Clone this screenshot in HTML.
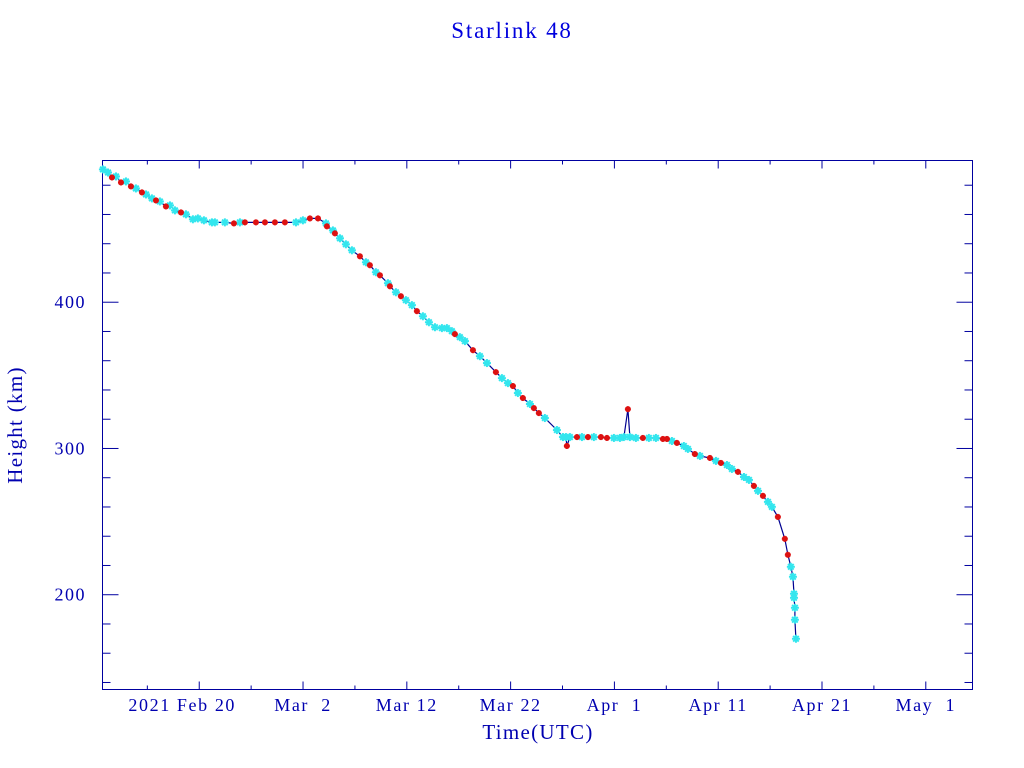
<!DOCTYPE html>
<html><head><meta charset="utf-8"><style>
html,body{margin:0;padding:0;background:#fff;}
svg{display:block;}
text{font-family:"Liberation Serif",serif;fill:#0000b0;}
</style></head><body>
<svg id="chart" width="1024" height="768" viewBox="0 0 1024 768" xmlns="http://www.w3.org/2000/svg">
<text x="512" y="38" text-anchor="middle" font-size="23" letter-spacing="1.8" style="fill:#0000dd">Starlink 48</text>
<rect x="102.5" y="160.5" width="870" height="529" fill="none" stroke="#0000a0" stroke-width="1"/>
<g id="axes"></g>
<g id="series"></g>
<text x="538" y="739" text-anchor="middle" font-size="21" letter-spacing="1.3">Time(UTC)</text>
<text transform="translate(22,425) rotate(-90)" text-anchor="middle" font-size="21" letter-spacing="1.3">Height (km)</text>
</svg>
<script>
// days relative to 2021 Feb 20
const days = [-9.28,-8.79,-8.41,-8.02,-7.54,-7.06,-6.58,-6.10,-5.52,-5.13,-4.56,-4.17,-3.79,-3.21,-2.82,-2.34,-1.76,-1.28,-0.61,-0.13,0.45,1.22,1.51,2.47,3.34,3.92,4.40,5.46,6.33,7.29,8.25,9.32,9.99,10.66,11.44,12.21,12.30,12.88,13.07,13.56,14.13,14.71,15.48,16.06,16.44,17.02,17.41,18.18,18.37,18.95,19.43,19.91,20.49,20.97,21.55,22.13,22.71,23.38,23.86,24.34,24.63,25.11,25.60,26.37,27.04,27.72,28.58,29.16,29.74,30.22,30.70,31.18,31.86,32.24,32.72,33.30,34.46,35.04,35.33,35.42,35.71,36.39,36.87,37.45,38.02,38.70,39.28,39.95,40.53,40.91,41.30,41.49,42.07,42.74,43.32,44.00,44.67,45.06,45.54,46.02,46.69,47.08,47.75,48.24,49.20,49.78,50.26,50.84,51.32,51.90,52.48,52.96,53.44,53.83,54.31,54.79,55.17,55.75,56.42,56.71,57.00,57.20,57.30,57.30,57.39,57.39,57.49];
const heights = [490.8,488.7,485.3,486.0,481.9,482.6,479.2,477.8,475.1,473.7,471.0,469.6,468.9,465.5,466.2,462.8,461.4,460.1,456.7,457.3,456.0,454.6,454.6,454.6,453.9,454.6,454.6,454.6,454.6,454.6,454.6,454.6,456.0,457.3,457.3,453.9,451.9,449.1,447.1,443.7,439.6,435.5,431.4,427.3,425.3,420.5,418.4,413.0,410.9,406.8,404.1,401.4,398.0,393.9,390.4,386.3,382.9,382.3,382.3,380.2,378.2,376.1,373.4,367.2,363.1,358.4,352.2,348.1,344.7,342.7,337.9,334.5,330.4,327.6,324.2,320.8,312.6,307.8,307.8,301.7,307.8,307.8,307.8,307.8,307.8,307.8,307.2,307.2,307.2,307.8,326.9,307.8,307.2,307.2,307.2,307.2,306.5,306.5,305.1,303.8,301.7,299.7,296.2,294.9,293.5,291.5,290.1,288.7,286.0,284.0,280.5,278.5,274.4,271.0,267.6,263.5,260.1,253.2,238.2,227.3,219.1,212.3,200.7,197.9,191.1,182.9,169.9];
const kinds = ['c','c','r','c','r','c','r','c','r','c','c','r','c','r','c','c','r','c','c','c','c','c','c','c','r','c','r','r','r','r','r','c','c','r','r','c','r','c','r','c','c','c','r','c','r','c','r','c','r','c','r','c','c','r','c','c','c','c','c','c','r','c','c','r','c','c','r','c','c','r','c','r','c','r','r','c','c','c','c','r','c','r','c','r','c','r','r','c','c','c','r','c','c','r','c','c','r','r','c','r','c','c','r','c','r','c','r','c','c','r','c','c','r','c','r','c','c','r','r','r','c','c','c','c','c','c','c'];
const yTicks = [200,300,400];
const xTickLabels = ['2021 Feb 20','Mar  2','Mar 12','Mar 22','Apr  1','Apr 11','Apr 21','May  1'];
const xTickDays = [0,10,20,30,40,50,60,70];

const X0=102.5, X1=972.5, Y0=689.5, Y1=160.5;
const dMin=-9.32, dMax=74.5, hMin=135.2, hMax=496.9;
const xs = d => X0 + (d-dMin)/(dMax-dMin)*(X1-X0);
const ys = h => Y0 - (h-hMin)/(hMax-hMin)*(Y0-Y1);
const NS='http://www.w3.org/2000/svg';
const axes=document.getElementById('axes'), series=document.getElementById('series');
function mk(tag,attrs,parent){const e=document.createElementNS(NS,tag);for(const k in attrs)e.setAttribute(k,attrs[k]);parent.appendChild(e);return e;}

for(let d=-5; d<=dMax; d+=5){
  const x=xs(d), len=(d%10===0)?8:4;
  const t1=mk('line',{x1:x,x2:x,y1:Y0,y2:Y0-len,stroke:'#0000a0'},axes);
  
  
  const t2=mk('line',{x1:x,x2:x,y1:Y1,y2:Y1+len,stroke:'#0000a0'},axes);
  
  
}
xTickDays.forEach((d,i)=>{
  const lbl=xTickLabels[i];
  const t=mk('text',{x:xs(d)+(i===0?-17:0),y:711,'text-anchor':'middle','font-size':'18','letter-spacing':'1.6'},axes);
  
  
  t.style.whiteSpace='pre';
  t.textContent=lbl;
});
for(let h=140; h<=hMax; h+=20){
  const y=ys(h), len=(h%100===0)?16:8;
  const t1=mk('line',{x1:X0,x2:X0+len,y1:y,y2:y,stroke:'#0000a0'},axes);
  
  
  const t2=mk('line',{x1:X1,x2:X1-len,y1:y,y2:y,stroke:'#0000a0'},axes);
  
  
}
yTicks.forEach(h=>{
  const t=mk('text',{x:86,y:ys(h)+6,'text-anchor':'end','font-size':'18','letter-spacing':'1.5'},axes);
  
  
  t.textContent=String(h);
});
const pts=days.map((d,i)=>xs(d).toFixed(1)+','+ys(heights[i]).toFixed(1)).join(' ');
const pl=mk('polyline',{points:pts,fill:'none',stroke:'#000090','stroke-width':'1.2'},series);


function star(x,y,col,r){
  const g=mk('g',{stroke:col,'stroke-width':'2'},series);
  mk('line',{x1:x-r,x2:x+r,y1:y,y2:y},g);
  mk('line',{x1:x,x2:x,y1:y-r,y2:y+r},g);
  mk('line',{x1:x-r*0.7,x2:x+r*0.7,y1:y-r*0.7,y2:y+r*0.7},g);
  mk('line',{x1:x-r*0.7,x2:x+r*0.7,y1:y+r*0.7,y2:y-r*0.7},g);
  return g;
}
days.forEach((d,i)=>{
  if(kinds[i]!=='c')return;
  const g=star(xs(d),ys(heights[i]),'#33e6ee',4);
  
  
});
days.forEach((d,i)=>{
  if(kinds[i]!=='r')return;
  const g=star(xs(d),ys(heights[i]),'#dd1111',3);
  
  
});
</script>
</body></html>
